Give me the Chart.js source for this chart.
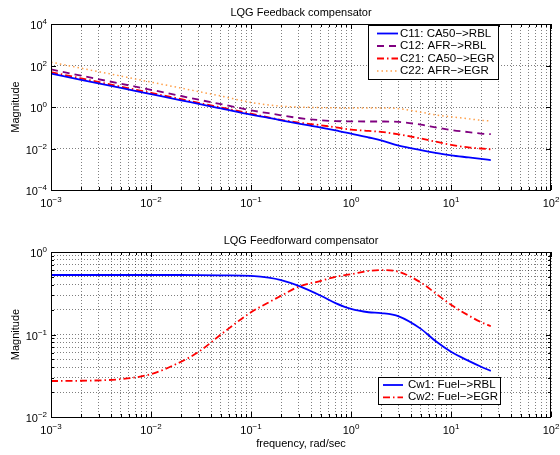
<!DOCTYPE html>
<html>
<head>
<meta charset="utf-8">
<script src="https://cdn.jsdelivr.net/npm/chart.js@4.4.0/dist/chart.umd.min.js"></script>
<style>
  body { margin: 0; background: #fff; }
  #wrap { position: relative; width: 560px; height: 455px; }
  canvas { position: absolute; left: 0; }
</style>
</head>
<body>
<div id="wrap">
  <canvas id="fb" width="560" height="220" style="top:0"></canvas>
  <canvas id="ff" width="560" height="235" style="top:220px"></canvas>
</div>
<script>
// frequency points, rad/sec
const freq = [0.001, 0.002, 0.005, 0.01, 0.02, 0.03, 0.05, 0.1, 0.15, 0.2, 0.3, 0.5, 0.7, 1, 1.5, 2, 3, 5, 7, 10, 15, 20, 25];

// feedback compensator magnitudes
const c11 = [40.7, 20.4, 8.32, 4.17, 2.09, 1.41, 0.851, 0.427, 0.302, 0.229, 0.158, 0.102, 0.0741, 0.0525, 0.0339, 0.0245, 0.0138, 0.00832, 0.00617, 0.00468, 0.00372, 0.00316, 0.00275];
const c12 = [64.6, 32.4, 13.2, 6.76, 3.39, 2.24, 1.38, 0.692, 0.501, 0.398, 0.295, 0.229, 0.209, 0.204, 0.200, 0.200, 0.191, 0.141, 0.105, 0.0776, 0.0617, 0.0525, 0.0490];
const c21 = [47.9, 24.0, 9.55, 4.79, 2.40, 1.58, 0.955, 0.479, 0.316, 0.240, 0.178, 0.132, 0.105, 0.0813, 0.0708, 0.0631, 0.0479, 0.0302, 0.0214, 0.0151, 0.0112, 0.0100, 0.00912];
const c22 = [145, 74.1, 30.9, 15.8, 8.13, 5.50, 3.39, 1.66, 1.26, 1.10, 1.00, 0.933, 0.912, 0.891, 0.891, 0.891, 0.832, 0.562, 0.417, 0.339, 0.269, 0.229, 0.214];

// feedforward compensator magnitudes
const cw1 = [0.526, 0.526, 0.526, 0.526, 0.526, 0.525, 0.521, 0.513, 0.490, 0.457, 0.389, 0.295, 0.240, 0.204, 0.186, 0.182, 0.166, 0.117, 0.0832, 0.0617, 0.0479, 0.0407, 0.0363];
const cw2 = [0.0273, 0.0275, 0.0288, 0.0331, 0.0468, 0.0617, 0.100, 0.186, 0.245, 0.295, 0.380, 0.447, 0.501, 0.537, 0.589, 0.603, 0.575, 0.427, 0.316, 0.229, 0.170, 0.141, 0.126];

// tick label exponents (10^e)
const xTickExp = [-3, -2, -1, 0, 1, 2];
const yTickExpFb = [4, 2, 0, -2, -4];
const yTickExpFf = [0, -1, -2];

const FONT = "'Liberation Sans', Arial, Helvetica, sans-serif";

function pts(ys) {
  return freq.map((f, i) => ({ x: f, y: ys[i] }));
}

// all 1..9 x 10^k ticks between two exponents
function logTicks(lo, hi) {
  const t = [];
  for (let e = lo; e < hi; e++) {
    for (let m = 1; m < 10; m++) t.push({ value: m * Math.pow(10, e), major: m === 1 });
  }
  t.push({ value: Math.pow(10, hi), major: true });
  return t;
}

function expText(e) {
  return (e < 0 ? '\u2212' : '') + Math.abs(e);
}

// draws "10" with a raised exponent
function drawPow(ctx, x, y, e, align) {
  ctx.font = '11px ' + FONT;
  const w10 = ctx.measureText('10').width;
  ctx.font = '8px ' + FONT;
  const we = ctx.measureText(expText(e)).width;
  const w = w10 + we;
  const start = align === 'right' ? x - w : x - w / 2;
  ctx.textAlign = 'left';
  ctx.textBaseline = 'alphabetic';
  ctx.font = '11px ' + FONT;
  ctx.fillText('10', start, y);
  ctx.font = '8px ' + FONT;
  ctx.fillText(expText(e), start + w10, y - 5);
}

// matlab style box, ticks, labels, title and legend
const matlabLook = {
  id: 'matlabLook',
  afterDraw(chart, args, opts) {
    const ctx = chart.ctx;
    const a = chart.chartArea;
    const xs = chart.scales.x, ys = chart.scales.y;
    ctx.save();
    ctx.fillStyle = '#000';
    ctx.strokeStyle = '#000';
    ctx.lineWidth = 1;

    // inner tick marks
    ctx.beginPath();
    xs.ticks.forEach(t => {
      const px = Math.round(xs.getPixelForValue(t.value)) + 0.5;
      const len = t.major ? 5 : 3;
      ctx.moveTo(px, a.bottom); ctx.lineTo(px, a.bottom - len);
      ctx.moveTo(px, a.top); ctx.lineTo(px, a.top + len);
    });
    ys.ticks.forEach(t => {
      const py = Math.round(ys.getPixelForValue(t.value)) + 0.5;
      const len = t.major ? 5 : 3;
      ctx.moveTo(a.left, py); ctx.lineTo(a.left + len, py);
      ctx.moveTo(a.right, py); ctx.lineTo(a.right - len, py);
    });
    ctx.stroke();

    // box
    ctx.strokeRect(Math.round(a.left) + 0.5, Math.round(a.top) + 0.5,
      Math.round(a.right - a.left) - 1, Math.round(a.bottom - a.top));

    // tick labels
    xTickExp.forEach(e => {
      drawPow(ctx, xs.getPixelForValue(Math.pow(10, e)), a.bottom + 17, e, 'center');
    });
    opts.yExp.forEach(e => {
      drawPow(ctx, a.left - 4, ys.getPixelForValue(Math.pow(10, e)) + 5, e, 'right');
    });

    // title
    ctx.font = '11px ' + FONT;
    ctx.textAlign = 'center';
    ctx.fillText(opts.title, (a.left + a.right) / 2, a.top - 8);

    // axis labels
    if (opts.xLabel) {
      ctx.fillText(opts.xLabel, (a.left + a.right) / 2, a.bottom + 30);
    }
    ctx.save();
    ctx.translate(19, (a.top + a.bottom) / 2);
    ctx.rotate(-Math.PI / 2);
    ctx.textAlign = 'center';
    ctx.fillText('Magnitude', 0, 0);
    ctx.restore();

    // legend
    const L = opts.legend;
    ctx.fillStyle = '#fff';
    ctx.fillRect(L.x, L.y, L.w, L.h);
    ctx.strokeStyle = '#000';
    ctx.lineWidth = 1;
    ctx.strokeRect(L.x + 0.5, L.y + 0.5, L.w, L.h);
    ctx.font = '11.5px ' + FONT;
    ctx.textAlign = 'left';
    ctx.textBaseline = 'middle';
    chart.data.datasets.forEach((ds, i) => {
      const yy = L.y + L.first + i * L.step;
      ctx.save();
      ctx.strokeStyle = ds.borderColor;
      ctx.lineWidth = ds.borderWidth;
      ctx.setLineDash(ds.borderDash || []);
      ctx.beginPath();
      ctx.moveTo(L.x + L.s0, yy);
      ctx.lineTo(L.x + L.s1, yy);
      ctx.stroke();
      ctx.restore();
      ctx.fillStyle = '#000';
      ctx.fillText(ds.label, L.x + L.tx, yy);
    });
    ctx.restore();
  }
};

function makeChart(id, datasets, yMinExp, yMaxExp, yTicks, pad, plug) {
  return new Chart(document.getElementById(id), {
    type: 'line',
    data: { datasets },
    options: {
      responsive: false,
      animation: false,
      events: [],
      layout: { padding: pad },
      elements: { point: { radius: 0 }, line: { cubicInterpolationMode: 'monotone' } },
      plugins: { legend: { display: false }, tooltip: { enabled: false }, matlabLook: plug },
      scales: {
        x: {
          type: 'logarithmic', min: 1e-3, max: 1e2,
          afterBuildTicks: s => { s.ticks = logTicks(-3, 2); },
          afterFit: s => { s.height = 0; s.paddingLeft = 0; s.paddingRight = 0; },
          ticks: { display: false },
          grid: { color: 'rgba(0,0,0,0.5)', lineWidth: 1, drawTicks: false },
          border: { display: false, dash: [1, 2] }
        },
        y: {
          type: 'logarithmic', min: Math.pow(10, yMinExp), max: Math.pow(10, yMaxExp),
          afterBuildTicks: s => { s.ticks = yTicks; },
          afterFit: s => { s.width = 51; s.paddingTop = 0; s.paddingBottom = 0; },
          ticks: { display: false },
          grid: { color: 'rgba(0,0,0,0.5)', lineWidth: 1, drawTicks: false },
          border: { display: false, dash: [1, 2] }
        }
      }
    },
    plugins: [matlabLook]
  });
}

const blue = '#0000ff', purple = '#800080', red = '#ff0000', orange = '#ffa04a';

makeChart('fb', [
  { label: 'C11: CA50\u2212>RBL', data: pts(c11), borderColor: blue, borderWidth: 1.8 },
  { label: 'C12: AFR\u2212>RBL', data: pts(c12), borderColor: purple, borderWidth: 1.8, borderDash: [7, 5] },
  { label: 'C21: CA50\u2212>EGR', data: pts(c21), borderColor: red, borderWidth: 1.8, borderDash: [7, 3, 1.5, 3] },
  { label: 'C22: AFR\u2212>EGR', data: pts(c22), borderColor: orange, borderWidth: 1.5, borderDash: [1.5, 3] }
], -4, 4, yTickExpFb.map(e => ({ value: Math.pow(10, e), major: true })),
  { left: 0, right: 9, top: 24, bottom: 30 },
  { title: 'LQG Feedback compensator', yExp: yTickExpFb,
    legend: { x: 368, y: 25, w: 130, h: 54, first: 8.5, step: 12.5, s0: 9, s1: 30, tx: 32 } });

makeChart('ff', [
  { label: 'Cw1: Fuel\u2212>RBL', data: pts(cw1), borderColor: blue, borderWidth: 1.8 },
  { label: 'Cw2: Fuel\u2212>EGR', data: pts(cw2), borderColor: red, borderWidth: 1.8, borderDash: [7, 3, 1.5, 3] }
], -2, 0, logTicks(-2, 0),
  { left: 0, right: 9, top: 32, bottom: 38 },
  { title: 'LQG Feedforward compensator', xLabel: 'frequency, rad/sec', yExp: yTickExpFf,
    legend: { x: 378, y: 157, w: 122, h: 27, first: 8, step: 12.3, s0: 5, s1: 25, tx: 30 } });
</script>
</body>
</html>
